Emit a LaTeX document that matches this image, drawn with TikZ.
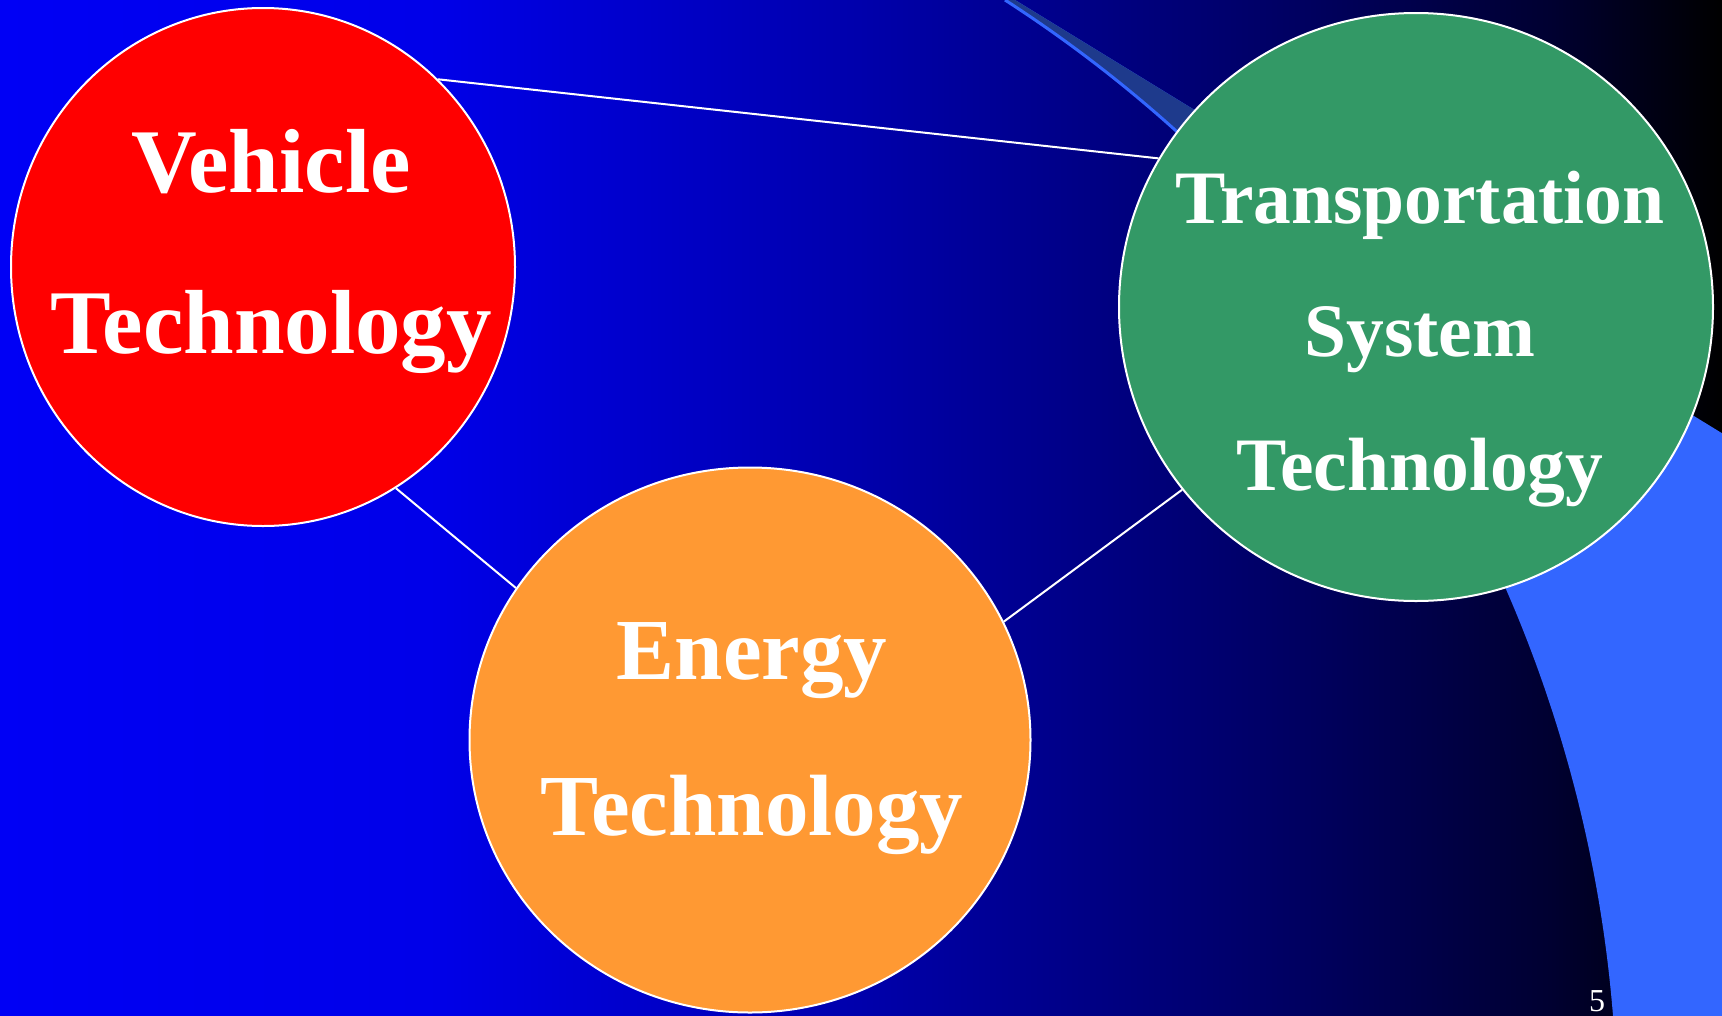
\documentclass[tikz,border=0pt]{standalone}
\usepackage{fontspec}
\setmainfont{Liberation Serif}
\usetikzlibrary{shapes.geometric}
\definecolor{slideblue}{RGB}{0,0,245}
\definecolor{swoosh}{HTML}{3366FF}
\definecolor{swooshdark}{HTML}{1E3A8C}
\definecolor{vehred}{HTML}{FF0000}
\definecolor{energyorange}{HTML}{FF9933}
\definecolor{transgreen}{HTML}{339966}
% blue fading into black, left to right (stops 25bp..75bp cover the path)
\pgfdeclarehorizontalshading{slidebg}{100bp}{%
  color(0bp)=(slideblue); color(25bp)=(slideblue);
  color(37.5bp)=(slideblue!95!black); color(50bp)=(slideblue!70!black);
  color(62.5bp)=(slideblue!40!black); color(70bp)=(slideblue!20!black);
  color(75bp)=(black); color(100bp)=(black)}
\tikzset{
  bubble/.style={ellipse, draw=white, line width=2pt, fill=#1, inner sep=0pt},
  bubtext/.style={text=white, align=center, inner sep=0pt},
  link/.style={draw=white, line width=2pt},
  swooshedge/.style={draw=swoosh, line width=3pt},
}

\begin{document}
\begin{tikzpicture}[x=1pt, y=-1pt]
  \useasboundingbox (0,0) rectangle (1722,1015);
  \shade[shading=slidebg] (0,0) rectangle (1722,1015);

  % the swoosh: light blue, darker band near the top
  \fill[swoosh] (1005,0) arc[start angle=57.2, end angle=0, radius=1336pt]
    -- (1800,1122) -- (1800,481) -- (1015,0) -- cycle;
  \begin{scope}
    \clip (900,-10) rectangle (1722,300);
    \fill[swooshdark] (1005,0) arc[start angle=57.2, end angle=0, radius=1336pt]
      -- (1800,1122) -- (1800,481) -- (1015,0) -- cycle;
  \end{scope}
  \draw[swooshedge] (1005,0) arc[start angle=57.2, end angle=30, radius=1336pt];

  \node[bubble=vehred, minimum width=504pt, minimum height=518pt] (veh) at (263,267) {};
  \node[bubble=energyorange, minimum width=561pt, minimum height=545pt] (nrg) at (750,740) {};
  \node[bubble=transgreen, minimum width=594pt, minimum height=588pt] (tst) at (1416,307) {};

  \node[bubtext, font=\fontsize{91}{161}\selectfont\bfseries] (vehtxt) at (271,251)
       {Vehicle\\Technology};
  \node[bubtext, font=\fontsize{87}{156}\selectfont\bfseries] (nrgtxt) at (752,739)
       {Energy\\Technology};
  \node[bubtext, font=\fontsize{75.5}{133.5}\selectfont\bfseries] (tsttxt) at (1420,339)
       {Transportation\\System\\Technology};

  \draw[link] (veh.47) -- (tst.150.7);
  \draw[link] (veh.-59.3) -- (nrg.147);
  \draw[link] (nrg.25.8) -- (tst.218.8);

  \node[text=white, anchor=base, inner sep=0pt, font=\fontsize{32}{36}\selectfont] (pnum)
       at (1597,1011) {5};
\end{tikzpicture}
\end{document}
